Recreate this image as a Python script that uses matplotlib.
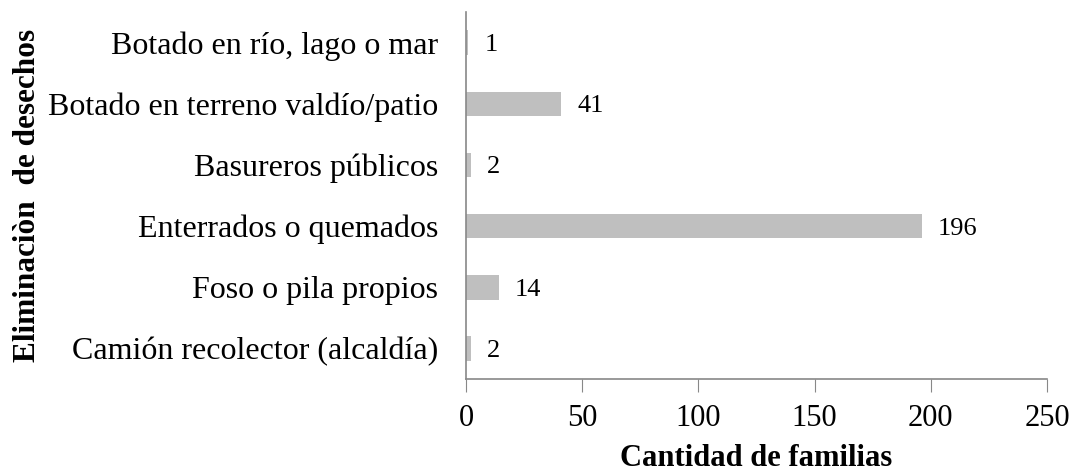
import matplotlib
matplotlib.use("Agg")
import matplotlib.pyplot as plt

categorias = ["Camión recolector (alcaldía)", "Foso o pila propios", "Enterrados o quemados",
              "Basureros públicos", "Botado en terreno valdío/patio", "Botado en río, lago o mar"]
familias = [2, 14, 196, 2, 41, 1]
ticks_x = [0, 50, 100, 150, 200, 250]

plt.rcParams['font.family'] = ['Liberation Serif', 'DejaVu Serif']

fig = plt.figure(figsize=(10.74, 4.72), dpi=100)
ax = fig.add_axes([0.4339, 0.197, 0.541, 0.7775])

pos = range(len(categorias))
ax.barh(pos, familias, height=0.4, color='#bfbfbf')
for p, v in zip(pos, familias):
    ax.text(v + 7, p, str(v), va='center_baseline', ha='left', fontsize=19)

ax.set_xlim(0, 250)
ax.set_ylim(-0.5, len(categorias) - 0.5)
ax.set_xticks(ticks_x)
ax.set_yticks(list(pos))
ax.set_yticklabels(categorias, fontsize=23)
ax.tick_params(axis='x', labelsize=22, length=9, color='#888888', direction='out', pad=9)
ax.tick_params(axis='y', length=0, pad=20)

for s in ['top', 'right']:
    ax.spines[s].set_visible(False)
for s in ['left', 'bottom']:
    ax.spines[s].set_color('#888888')
    ax.spines[s].set_linewidth(1.2)

ax.set_xlabel('Cantidad de familias', fontsize=22, fontweight='bold', labelpad=8)
ax.set_ylabel('Eliminaciòn  de desechos', fontsize=22.5, fontweight='bold')
ax.yaxis.set_label_coords(-0.730, 0.5)

fig.savefig('out.png', dpi=100)
